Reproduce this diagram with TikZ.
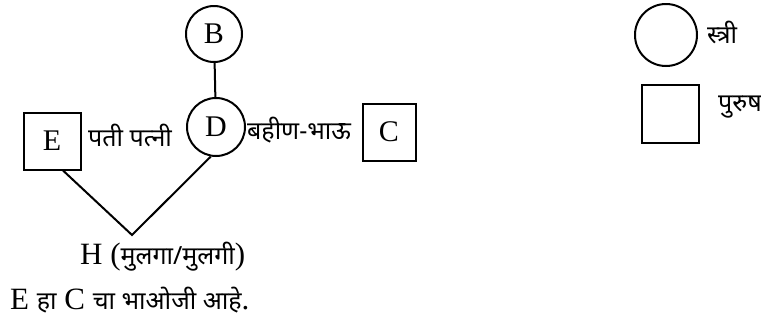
\documentclass[tikz,border=0pt]{standalone}
\usepackage{fontspec}
\setmainfont{Liberation Serif}
\newfontfamily\deva[Script=Devanagari]{Noto Sans}
\usetikzlibrary{positioning}
\tikzset{
  female/.style={
    circle, draw=black, line width=2pt, minimum size=56pt,
    inner sep=0pt, font=\fontsize{30}{34}\selectfont
  },
  male/.style={
    rectangle, draw=black, line width=2pt, minimum size=56pt,
    inner sep=0pt, font=\fontsize{30}{34}\selectfont
  },
  tie/.style={line width=2pt, draw=black},
  rel/.style={inner sep=0pt, anchor=west, font=\deva\fontsize{25}{28}\selectfont},
  note/.style={inner sep=0pt, anchor=west, font=\fontsize{31}{34}\selectfont}
}
\newcommand{\dv}[1]{{\deva\fontsize{25}{28}\selectfont #1}}

\begin{document}
\begin{tikzpicture}[x=1pt,y=-1pt]
  \useasboundingbox (0,0) rectangle (761,322);
  % family
  \node[female] (B) at (214,34) {B};
  \node[female,minimum size=58pt] (D) at (216,127) {D};
  \node[male,minimum width=57pt,minimum height=57pt] (E) at (52,141) {E};
  \node[male,minimum width=53pt,minimum height=57pt] (C) at (389,132) {C};
  \coordinate (h) at (132,235);
  \draw[tie] (B) -- (D);
  \draw[tie] ([xshift=11pt]E.south) -- (h) -- (D.-100);
  \node[rel] (spouse) at (88,135) {पती पत्नी};
  \node[rel] (sibling) at (247,130) {बहीण-भाऊ};
  \node[note] (child) at (80,257) {H (\dv{मुलगा/मुलगी})};
  \node[note] (remark) at (10,300) {E \dv{हा} C \dv{चा भाओजी आहे}.};
  % legend
  \node[female,minimum size=62pt] (lf) at (666,35) {};
  \node[male,minimum width=57pt,minimum height=58pt] (lm) at (670,114) {};
  \node[rel] (lftext) at (707,32) {स्त्री};
  \node[rel] (lmtext) at (718,107) {पुरुष};
\end{tikzpicture}
\end{document}
